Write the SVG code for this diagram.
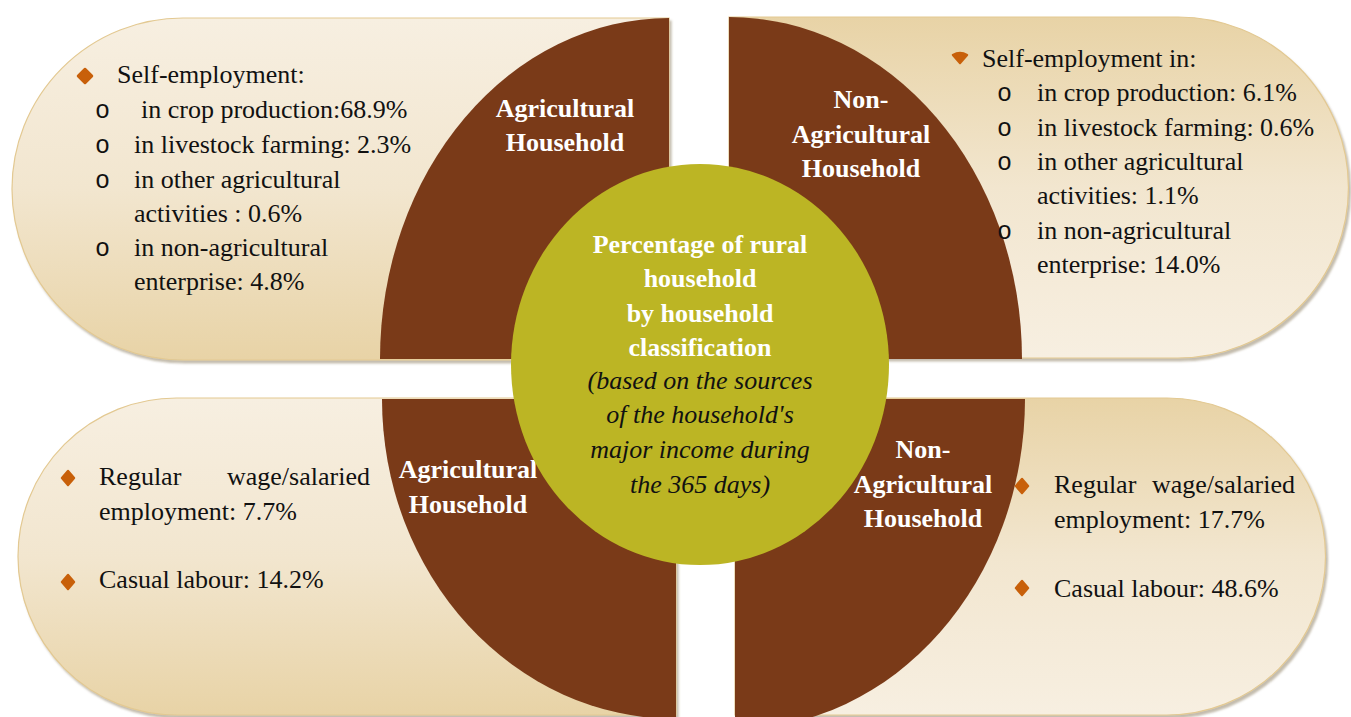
<svg xmlns="http://www.w3.org/2000/svg" width="1351" height="717" viewBox="0 0 1351 717">
<defs>
<linearGradient id="gLightTop" x1="0" y1="0" x2="0" y2="1">
<stop offset="0" stop-color="#f7efe1"/><stop offset="0.5" stop-color="#f2e6cf"/><stop offset="1" stop-color="#e8d3a6"/>
</linearGradient>
<linearGradient id="gDarkTop" x1="0" y1="0" x2="0" y2="1">
<stop offset="0" stop-color="#e8d3a6"/><stop offset="0.5" stop-color="#f2e6cf"/><stop offset="1" stop-color="#f7efe1"/>
</linearGradient>
<filter id="shadow" x="-5%" y="-5%" width="110%" height="115%">
<feDropShadow dx="2" dy="3" stdDeviation="1.2" flood-color="#7d6a4a" flood-opacity="0.45"/>
</filter>
</defs>
<style>
.pill{stroke:#e3c992;stroke-width:1.2;filter:url(#shadow)}
.wedge{fill:#7a3a18}
.hub{fill:#bcb524}
.t{font-family:"Liberation Serif","Times New Roman",serif;font-size:26px;fill:#111}
.w{font-family:"Liberation Serif","Times New Roman",serif;font-size:26px;font-weight:bold;fill:#ffffff;text-anchor:middle}
.i{font-family:"Liberation Serif","Times New Roman",serif;font-size:26px;font-style:italic;fill:#111;text-anchor:middle}
.o{font-family:"Liberation Mono","Courier New",monospace;font-size:25px;fill:#111}
.dia{fill:#c8600a;stroke:#c8600a;stroke-width:2.5;stroke-linejoin:round}
</style>
<rect x="0" y="0" width="1351" height="717" fill="#ffffff"/>

<g id="box-top-left">
<path class="pill" fill="url(#gLightTop)" d="M669,18 L183,18 A171,171 0 0 0 183,360 L669,360 Z"/>
</g>
<g id="box-top-right">
<path class="pill" fill="url(#gDarkTop)" d="M729,17 L1178,17 A170.5,170.5 0 0 1 1178,358 L729,358 Z"/>
</g>
<g id="box-bottom-left">
<path class="pill" fill="url(#gLightTop)" d="M676,398 L176.5,398 A158.5,158.5 0 0 0 176.5,715 L676,715 Z"/>
</g>
<g id="box-bottom-right">
<path class="pill" fill="url(#gDarkTop)" d="M735,398 L1167,398 A158.5,158.5 0 0 1 1167,715 L735,715 Z"/>
</g>

<g id="wedge-top-left">
<path class="wedge" d="M669,359 L380,359 A289,341 0 0 1 669,18 Z"/>
<text class="w" x="565" y="117">Agricultural</text>
<text class="w" x="565" y="151">Household</text>
</g>
<g id="wedge-top-right">
<path class="wedge" d="M729,359 L729,17 A293,342 0 0 1 1022,359 Z"/>
<text class="w" x="861" y="108">Non-</text>
<text class="w" x="861" y="143">Agricultural</text>
<text class="w" x="861" y="177">Household</text>
</g>
<g id="wedge-bottom-left">
<path class="wedge" d="M676,399 L676,719 A294,320 0 0 1 382,399 Z"/>
<text class="w" x="468" y="478">Agricultural</text>
<text class="w" x="468" y="513">Household</text>
</g>
<g id="wedge-bottom-right">
<path class="wedge" d="M735,399 L1025,399 A290,330 0 0 1 735,729 Z"/>
<text class="w" x="923" y="458">Non-</text>
<text class="w" x="923" y="493">Agricultural</text>
<text class="w" x="923" y="527">Household</text>
</g>

<g id="center">
<ellipse class="hub" cx="700" cy="364.5" rx="189" ry="200.5"/>
<text class="w" x="700" y="253">Percentage of rural</text>
<text class="w" x="700" y="287">household</text>
<text class="w" x="700" y="322">by household</text>
<text class="w" x="700" y="356">classification</text>
<text class="i" x="700" y="389">(based on the sources</text>
<text class="i" x="700" y="423">of the household's</text>
<text class="i" x="700" y="458">major income during</text>
<text class="i" x="700" y="493">the 365 days)</text>
</g>

<g id="text-top-left">
<path class="dia" d="M85,69 L92,76 L85,83 L78,76 Z"/>
<text class="t" x="117" y="83">Self-employment:</text>
<text class="o" x="95" y="118">o</text>
<text class="t" x="141" y="118">in crop production:68.9%</text>
<text class="o" x="95" y="153">o</text>
<text class="t" x="134" y="153">in livestock farming: 2.3%</text>
<text class="o" x="95" y="188">o</text>
<text class="t" x="134" y="188">in other agricultural</text>
<text class="t" x="134" y="222">activities : 0.6%</text>
<text class="o" x="95" y="256">o</text>
<text class="t" x="134" y="256">in non-agricultural</text>
<text class="t" x="134" y="290">enterprise: 4.8%</text>
</g>

<g id="text-top-right">
<path class="dia" d="M953,55 Q960,51 967,55 L960,63 Z"/>
<text class="t" x="982" y="67">Self-employment in:</text>
<text class="o" x="997" y="101">o</text>
<text class="t" x="1037" y="101">in crop production: 6.1%</text>
<text class="o" x="997" y="136">o</text>
<text class="t" x="1037" y="136">in livestock farming: 0.6%</text>
<text class="o" x="997" y="170">o</text>
<text class="t" x="1037" y="170">in other agricultural</text>
<text class="t" x="1037" y="204">activities: 1.1%</text>
<text class="o" x="997" y="239">o</text>
<text class="t" x="1037" y="239">in non-agricultural</text>
<text class="t" x="1037" y="273">enterprise: 14.0%</text>
</g>

<g id="text-bottom-left">
<path class="dia" d="M68,471 L74,478 L68,485 L62,478 Z"/>
<text class="t" x="99" y="485">Regular</text>
<text class="t" x="227" y="485">wage/salaried</text>
<text class="t" x="99" y="520">employment: 7.7%</text>
<path class="dia" d="M68,575 L74,582 L68,589 L62,582 Z"/>
<text class="t" x="99" y="588">Casual labour: 14.2%</text>
</g>

<g id="text-bottom-right">
<path class="dia" d="M1022,479 L1028,486 L1022,493 L1016,486 Z"/>
<text class="t" x="1054" y="493">Regular</text>
<text class="t" x="1152" y="493">wage/salaried</text>
<text class="t" x="1054" y="528">employment: 17.7%</text>
<path class="dia" d="M1022,581 L1028,588 L1022,595 L1016,588 Z"/>
<text class="t" x="1054" y="597">Casual labour: 48.6%</text>
</g>

<g id="connectors"/>
</svg>
